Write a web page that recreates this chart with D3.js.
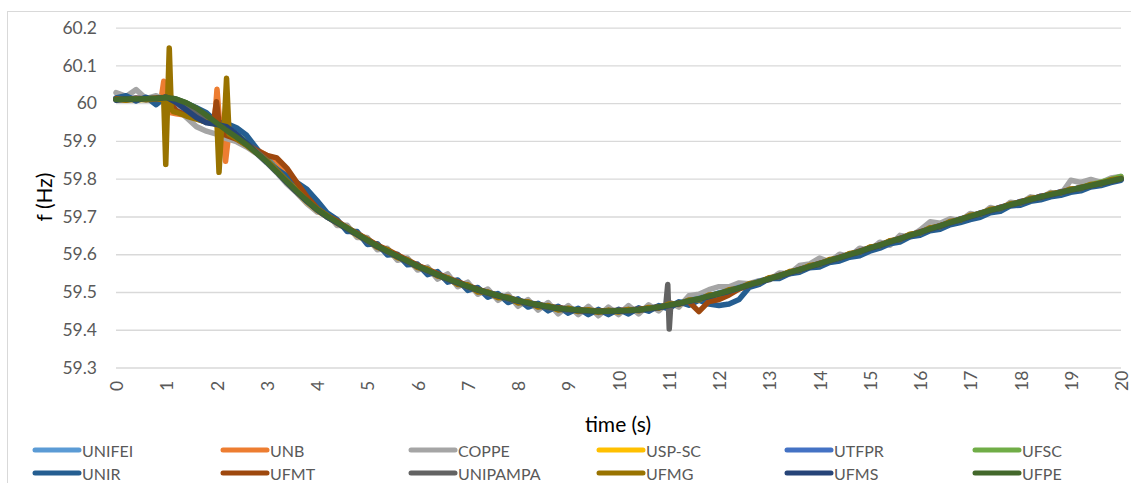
<!DOCTYPE html>
<html>
<head>
<meta charset="utf-8">
<script src="https://cdn.jsdelivr.net/npm/d3@7"></script>
<style>
  html, body { margin: 0; padding: 0; background: #fff; }
  svg { display: block; }
  text { font-family: Lato, "Open Sans", sans-serif; }
</style>
</head>
<body>
<svg id="chart" width="1131" height="483"></svg>
<script>
// Frequency measured at twelve sites, sampled every 0.2 s from 0 to 20 s
const timeGrid = d3.range(101).map(i => +(i * 0.2).toFixed(1));

const xTicks = d3.range(0, 21);
const yTicks = [59.3, 59.4, 59.5, 59.6, 59.7, 59.8, 59.9, 60.0, 60.1, 60.2];

const seriesNames = ["UNIFEI", "UNB", "COPPE", "USP-SC", "UTFPR", "UFSC",
                     "UNIR", "UFMT", "UNIPAMPA", "UFMG", "UFMS", "UFPE"];
const seriesColors = ["#5B9BD5", "#ED7D31", "#A5A5A5", "#FFC000", "#4472C4", "#70AD47",
                      "#255E91", "#9E480E", "#636363", "#997300", "#264478", "#43682B"];

const unifei = [
  60.012,60.008,60.011,60.009,60.013,60.010,60.004,59.992,59.976,59.960,
  59.947,59.928,59.910,59.895,59.870,59.848,59.824,59.790,59.768,59.739,
  59.720,59.698,59.686,59.666,59.654,59.634,59.623,59.605,59.596,59.579,
  59.570,59.554,59.547,59.532,59.526,59.512,59.507,59.495,59.492,59.481,
  59.478,59.468,59.467,59.458,59.457,59.451,59.453,59.448,59.450,59.447,
  59.451,59.449,59.455,59.454,59.462,59.463,59.472,59.474,59.484,59.487,
  59.498,59.501,59.513,59.517,59.529,59.533,59.545,59.549,59.561,59.565,
  59.577,59.581,59.593,59.597,59.609,59.614,59.626,59.631,59.643,59.648,
  59.660,59.665,59.677,59.682,59.694,59.698,59.710,59.714,59.725,59.729,
  59.740,59.743,59.754,59.756,59.766,59.768,59.778,59.780,59.790,59.792,
  59.801];

const unb = [
  60.011,60.009,60.012,60.010,60.012,60.015,59.972,59.968,59.962,59.955,
  59.945,59.930,59.912,59.896,59.877,59.862,59.846,59.818,59.784,59.753,
  59.724,59.703,59.686,59.669,59.655,59.637,59.624,59.608,59.597,59.580,
  59.571,59.555,59.548,59.533,59.527,59.513,59.506,59.496,59.491,59.482,
  59.477,59.469,59.466,59.459,59.456,59.452,59.452,59.449,59.448,59.450,
  59.449,59.452,59.452,59.457,59.459,59.466,59.469,59.477,59.481,59.490,
  59.494,59.505,59.509,59.520,59.525,59.537,59.541,59.553,59.557,59.569,
  59.573,59.585,59.589,59.601,59.605,59.618,59.622,59.635,59.639,59.652,
  59.656,59.669,59.673,59.686,59.690,59.702,59.706,59.718,59.721,59.733,
  59.736,59.747,59.750,59.760,59.762,59.772,59.774,59.784,59.786,59.796,
  59.799];
const unbBurstA = [[0.90,60.012],[0.95,60.058],[1.00,60.005],[1.08,59.975]];
const unbBurstB = [[1.96,59.950],[2.01,60.037],[2.07,59.935],[2.13,59.925],[2.18,59.846],[2.24,59.915]];

const coppe = [
  60.028,60.018,60.036,60.012,60.020,60.008,59.990,59.962,59.938,59.926,
  59.918,59.906,59.898,59.884,59.866,59.842,59.816,59.786,59.762,59.734,
  59.712,59.708,59.676,59.677,59.644,59.644,59.612,59.616,59.584,59.590,
  59.558,59.566,59.534,59.548,59.514,59.526,59.494,59.508,59.478,59.494,
  59.462,59.480,59.452,59.472,59.442,59.464,59.440,59.462,59.437,59.460,
  59.440,59.464,59.442,59.466,59.450,59.474,59.460,59.490,59.494,59.506,
  59.514,59.514,59.524,59.522,59.530,59.532,59.550,59.548,59.570,59.574,
  59.590,59.580,59.600,59.594,59.616,59.610,59.632,59.624,59.650,59.646,
  59.664,59.686,59.682,59.694,59.688,59.708,59.702,59.724,59.716,59.738,
  59.734,59.752,59.748,59.764,59.758,59.796,59.790,59.798,59.790,59.802,
  59.806];

const uspsc = [
  60.010,60.012,60.008,60.011,60.010,60.013,60.002,59.990,59.975,59.958,
  59.942,59.927,59.910,59.890,59.870,59.846,59.820,59.790,59.764,59.738,
  59.716,59.699,59.682,59.667,59.650,59.635,59.620,59.606,59.592,59.580,
  59.567,59.555,59.544,59.533,59.523,59.513,59.504,59.496,59.489,59.482,
  59.475,59.469,59.464,59.459,59.455,59.452,59.450,59.448,59.447,59.447,
  59.448,59.450,59.452,59.455,59.459,59.464,59.469,59.475,59.481,59.488,
  59.495,59.502,59.510,59.518,59.526,59.534,59.542,59.550,59.558,59.566,
  59.574,59.582,59.590,59.598,59.606,59.615,59.623,59.632,59.640,59.649,
  59.657,59.666,59.674,59.683,59.691,59.699,59.707,59.715,59.722,59.730,
  59.737,59.744,59.751,59.757,59.763,59.769,59.775,59.781,59.787,59.793,
  59.799];

const utfpr = [
  60.013,60.011,60.014,60.010,60.012,60.011,60.008,59.998,59.982,59.966,
  59.949,59.933,59.916,59.897,59.876,59.854,59.826,59.797,59.770,59.745,
  59.721,59.702,59.686,59.670,59.654,59.638,59.623,59.609,59.596,59.583,
  59.570,59.558,59.547,59.536,59.526,59.516,59.507,59.499,59.492,59.485,
  59.478,59.472,59.467,59.462,59.458,59.455,59.453,59.451,59.450,59.450,
  59.451,59.452,59.454,59.457,59.461,59.466,59.471,59.477,59.483,59.490,
  59.497,59.504,59.512,59.520,59.528,59.536,59.544,59.552,59.560,59.568,
  59.576,59.584,59.592,59.600,59.608,59.617,59.625,59.634,59.642,59.651,
  59.659,59.668,59.676,59.685,59.693,59.701,59.709,59.717,59.724,59.732,
  59.739,59.746,59.753,59.759,59.765,59.771,59.777,59.783,59.789,59.795,
  59.801];

const ufsc = [
  60.011,60.012,60.010,60.012,60.013,60.014,60.010,60.001,59.986,59.970,
  59.952,59.935,59.917,59.897,59.875,59.851,59.824,59.795,59.768,59.743,
  59.720,59.701,59.685,59.669,59.653,59.637,59.622,59.608,59.595,59.582,
  59.569,59.557,59.546,59.535,59.525,59.515,59.506,59.498,59.491,59.484,
  59.477,59.471,59.466,59.461,59.457,59.454,59.452,59.450,59.449,59.449,
  59.450,59.451,59.453,59.456,59.460,59.465,59.470,59.476,59.482,59.489,
  59.496,59.503,59.511,59.519,59.527,59.535,59.543,59.551,59.559,59.567,
  59.575,59.583,59.591,59.599,59.607,59.616,59.624,59.633,59.641,59.650,
  59.658,59.667,59.675,59.684,59.692,59.700,59.708,59.716,59.723,59.731,
  59.738,59.745,59.752,59.758,59.764,59.770,59.777,59.784,59.791,59.798,
  59.806];

const unir = [
  60.014,60.020,60.006,60.016,59.996,60.018,60.010,60.000,59.988,59.975,
  59.950,59.946,59.935,59.915,59.880,59.845,59.825,59.808,59.790,59.772,
  59.742,59.710,59.692,59.660,59.660,59.626,59.628,59.598,59.600,59.572,
  59.574,59.546,59.554,59.526,59.532,59.504,59.512,59.486,59.496,59.472,
  59.482,59.460,59.470,59.450,59.462,59.444,59.457,59.440,59.454,59.440,
  59.454,59.442,59.458,59.449,59.464,59.455,59.474,59.465,59.478,59.468,
  59.464,59.468,59.480,59.512,59.520,59.536,59.536,59.548,59.552,59.564,
  59.566,59.578,59.582,59.592,59.596,59.608,59.616,59.628,59.632,59.646,
  59.650,59.662,59.666,59.678,59.684,59.692,59.698,59.710,59.714,59.728,
  59.730,59.740,59.744,59.752,59.756,59.764,59.768,59.778,59.782,59.790,
  59.796];

const ufmt = [
  60.012,60.010,60.013,60.011,60.014,60.016,59.980,59.968,59.960,59.950,
  59.945,59.915,59.905,59.890,59.875,59.862,59.855,59.828,59.790,59.752,
  59.722,59.702,59.688,59.670,59.655,59.640,59.624,59.612,59.598,59.585,
  59.571,59.560,59.548,59.537,59.527,59.517,59.507,59.499,59.491,59.485,
  59.477,59.472,59.466,59.462,59.458,59.455,59.452,59.451,59.450,59.450,
  59.451,59.452,59.454,59.457,59.460,59.466,59.470,59.474,59.448,59.475,
  59.480,59.492,59.508,59.518,59.527,59.535,59.544,59.551,59.560,59.567,
  59.576,59.583,59.592,59.599,59.608,59.616,59.625,59.633,59.642,59.650,
  59.659,59.667,59.676,59.684,59.693,59.700,59.709,59.716,59.724,59.731,
  59.739,59.745,59.753,59.758,59.765,59.770,59.777,59.782,59.789,59.794,
  59.801];
const ufmtBurst = [[1.94,59.948],[2.00,60.004],[2.06,59.935],[2.12,59.918]];

const unipampa = [
  60.009,60.011,60.010,60.012,60.010,60.011,60.005,59.994,59.977,59.961,
  59.944,59.929,59.911,59.892,59.871,59.849,59.821,59.792,59.765,59.740,
  59.717,59.699,59.683,59.667,59.651,59.635,59.620,59.606,59.593,59.580,
  59.567,59.555,59.544,59.533,59.523,59.513,59.504,59.496,59.489,59.482,
  59.475,59.469,59.464,59.459,59.455,59.452,59.450,59.449,59.448,59.448,
  59.449,59.450,59.452,59.455,59.459,59.464,59.469,59.475,59.481,59.488,
  59.495,59.502,59.510,59.518,59.526,59.534,59.542,59.550,59.558,59.566,
  59.574,59.582,59.590,59.598,59.606,59.615,59.623,59.632,59.640,59.649,
  59.657,59.666,59.674,59.683,59.691,59.699,59.707,59.715,59.722,59.730,
  59.737,59.744,59.751,59.757,59.763,59.769,59.775,59.781,59.787,59.793,
  59.799];
const unipampaBurst = [[10.94,59.463],[10.98,59.520],[11.01,59.402],[11.04,59.466]];

const ufmg = [
  60.010,60.008,60.012,60.009,60.011,60.012,59.976,59.966,59.958,59.950,
  59.945,59.925,59.906,59.888,59.868,59.848,59.822,59.795,59.768,59.742,
  59.720,59.703,59.683,59.671,59.653,59.639,59.618,59.612,59.591,59.585,
  59.565,59.561,59.542,59.538,59.520,59.519,59.500,59.500,59.485,59.487,
  59.471,59.474,59.460,59.464,59.452,59.457,59.448,59.453,59.446,59.452,
  59.447,59.454,59.450,59.459,59.457,59.468,59.467,59.479,59.479,59.492,
  59.494,59.506,59.509,59.522,59.525,59.538,59.541,59.554,59.557,59.570,
  59.573,59.586,59.589,59.602,59.605,59.619,59.622,59.636,59.639,59.653,
  59.656,59.670,59.673,59.687,59.690,59.703,59.706,59.719,59.721,59.734,
  59.736,59.748,59.750,59.761,59.762,59.773,59.774,59.785,59.786,59.797,
  59.800];
const ufmgBurstA = [[0.95,60.010],[0.99,59.838],[1.025,59.995],[1.06,60.146],[1.10,59.985],[1.14,59.978]];
const ufmgBurstB = [[2.01,59.946],[2.05,59.817],[2.10,59.932],[2.15,59.935],[2.20,60.066],[2.25,59.918]];

const ufms = [
  60.008,60.012,60.009,60.013,60.012,60.016,60.002,59.982,59.962,59.948,
  59.944,59.938,59.918,59.894,59.868,59.844,59.818,59.790,59.764,59.740,
  59.718,59.699,59.683,59.667,59.652,59.636,59.621,59.607,59.594,59.581,
  59.568,59.556,59.545,59.534,59.524,59.514,59.505,59.497,59.490,59.483,
  59.476,59.470,59.465,59.460,59.456,59.453,59.451,59.449,59.448,59.448,
  59.449,59.450,59.452,59.455,59.459,59.464,59.469,59.475,59.481,59.488,
  59.495,59.502,59.510,59.518,59.526,59.534,59.542,59.550,59.558,59.566,
  59.574,59.582,59.590,59.598,59.606,59.615,59.623,59.632,59.640,59.649,
  59.657,59.666,59.674,59.683,59.691,59.699,59.707,59.715,59.722,59.730,
  59.737,59.744,59.751,59.757,59.763,59.769,59.775,59.781,59.787,59.793,
  59.799];

const ufpe = [
  60.010,60.011,60.011,60.012,60.013,60.015,60.011,60.001,59.987,59.968,
  59.948,59.928,59.910,59.890,59.868,59.845,59.818,59.792,59.766,59.742,
  59.719,59.701,59.685,59.669,59.653,59.637,59.622,59.608,59.595,59.582,
  59.569,59.557,59.546,59.535,59.525,59.515,59.506,59.498,59.491,59.484,
  59.477,59.471,59.466,59.461,59.457,59.454,59.452,59.450,59.449,59.449,
  59.450,59.451,59.453,59.456,59.460,59.465,59.470,59.476,59.482,59.489,
  59.496,59.503,59.511,59.519,59.527,59.535,59.543,59.551,59.559,59.567,
  59.575,59.583,59.591,59.599,59.607,59.616,59.624,59.633,59.641,59.650,
  59.658,59.667,59.675,59.684,59.692,59.700,59.708,59.716,59.723,59.731,
  59.738,59.745,59.752,59.758,59.764,59.770,59.776,59.782,59.788,59.794,
  59.800];

const seriesValues = [unifei, unb, coppe, uspsc, utfpr, ufsc, unir, ufmt, unipampa, ufmg, ufms, ufpe];
const seriesBursts = [[], [unbBurstA, unbBurstB], [], [], [], [], [], [ufmtBurst], [unipampaBurst], [ufmgBurstA, ufmgBurstB], [], []];

// Merge the regular samples with the finely sampled transients of a series
function buildPoints(values, bursts) {
  let pts = values.map((v, i) => [timeGrid[i], v]);
  bursts.forEach(b => {
    const t0 = b[0][0], t1 = b[b.length - 1][0];
    pts = pts.filter(p => p[0] <= t0 || p[0] >= t1).concat(b);
  });
  return pts.sort((a, b) => a[0] - b[0]);
}

const svg = d3.select("#chart");
const W = 1131, H = 483;
const plot = { left: 116, right: 1121, top: 27.7, bottom: 367.5 };

// chart frame
svg.append("rect")
  .attr("x", 7.5).attr("y", 11.5)
  .attr("width", W + 10).attr("height", H + 10)
  .attr("fill", "#fff").attr("stroke", "#D9D9D9").attr("stroke-width", 1);

const x = d3.scaleLinear().domain([0, 20]).range([plot.left, plot.right]);
const y = d3.scaleLinear().domain([59.3, 60.2]).range([plot.bottom, plot.top]);

// value axis with horizontal gridlines
const yAxis = svg.append("g")
  .attr("transform", `translate(${plot.left},0)`)
  .call(d3.axisLeft(y)
    .tickValues(yTicks)
    .tickSize(-(plot.right - plot.left))
    .tickPadding(19)
    .tickFormat(d => String(+d.toFixed(1))));
yAxis.select(".domain").remove();
yAxis.selectAll(".tick line").attr("stroke", "#D9D9D9").attr("stroke-width", 1.3);
yAxis.selectAll(".tick text")
  .attr("fill", "#595959")
  .style("font-size", "17.5px")
  .style("font-family", "Lato, sans-serif");

// time axis with vertical labels
const xAxis = svg.append("g")
  .attr("transform", `translate(0,${plot.bottom})`)
  .call(d3.axisBottom(x).tickValues(xTicks).tickSize(0).tickFormat(d3.format("d")));
xAxis.select(".domain").remove();
xAxis.selectAll(".tick text")
  .attr("x", 0).attr("y", 0).attr("dy", null)
  .attr("text-anchor", "start")
  .attr("dominant-baseline", "central")
  .attr("transform", "translate(0,23.5) rotate(-90)")
  .attr("fill", "#595959")
  .style("font-size", "17.5px")
  .style("font-family", "Lato, sans-serif");

// series
const line = d3.line().x(d => x(d[0])).y(d => y(d[1]));
const gLines = svg.append("g");
seriesNames.forEach((name, i) => {
  gLines.append("path")
    .datum(buildPoints(seriesValues[i], seriesBursts[i]))
    .attr("d", line)
    .attr("fill", "none")
    .attr("stroke", seriesColors[i])
    .attr("stroke-width", 5.5)
    .attr("stroke-linejoin", "round")
    .attr("stroke-linecap", "round");
});

// axis titles
svg.append("text")
  .attr("transform", "translate(43,197) rotate(-90)")
  .attr("text-anchor", "middle")
  .attr("dominant-baseline", "central")
  .attr("fill", "#000")
  .style("font-size", "21px")
  .text("f (Hz)");

svg.append("text")
  .attr("x", 618).attr("y", 423)
  .attr("text-anchor", "middle")
  .attr("dominant-baseline", "central")
  .attr("fill", "#000")
  .style("font-size", "21px")
  .text("time (s)");

// legend: six columns, two rows
const legend = svg.append("g");
seriesNames.forEach((name, i) => {
  const col = i % 6, row = Math.floor(i / 6);
  const lx = 35 + col * 188, ly = 450 + row * 23;
  legend.append("line")
    .attr("x1", lx).attr("x2", lx + 44)
    .attr("y1", ly).attr("y2", ly)
    .attr("stroke", seriesColors[i])
    .attr("stroke-width", 5)
    .attr("stroke-linecap", "round");
  legend.append("text")
    .attr("x", lx + 47).attr("y", ly)
    .attr("dominant-baseline", "central")
    .attr("fill", "#595959")
    .style("font-size", "16px")
    .text(name);
});
</script>
</body>
</html>
